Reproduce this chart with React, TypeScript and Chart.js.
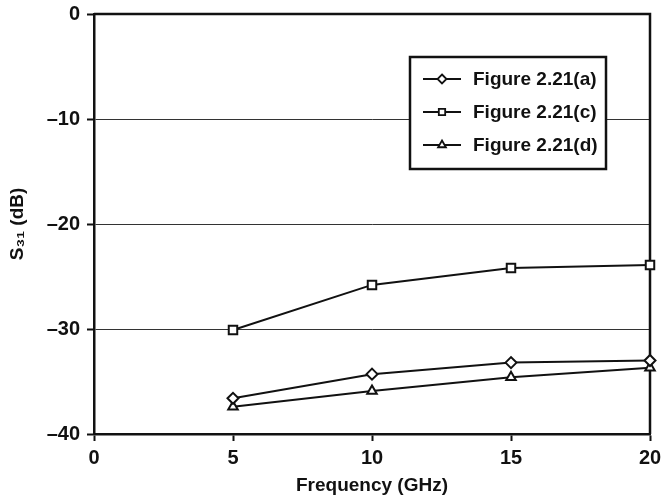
import React, { useEffect, useRef } from 'react';
import { Chart, registerables } from 'chart.js';

Chart.register(...registerables);

const frequencies = [5, 10, 15, 20];
const seriesA = [-36.6, -34.3, -33.2, -33.0];
const seriesC = [-30.1, -25.8, -24.2, -23.9];
const seriesD = [-37.4, -35.9, -34.6, -33.7];
const seriesLabels = ['Figure 2.21(a)', 'Figure 2.21(c)', 'Figure 2.21(d)'];
const seriesMarkers = ['rectRot', 'rect', 'triangle'];
const xTitle = 'Frequency (GHz)';
const yTitle = 'S\u2083\u2081 (dB)';

const FONT = "'Liberation Sans', Arial, sans-serif";
const INK = '#111';

function drawMarker(ctx: CanvasRenderingContext2D, style: string, x: number, y: number, r: number) {
  ctx.beginPath();
  if (style === 'rectRot') {
    ctx.moveTo(x, y - r);
    ctx.lineTo(x + r, y);
    ctx.lineTo(x, y + r);
    ctx.lineTo(x - r, y);
    ctx.closePath();
  } else if (style === 'rect') {
    const s = r * Math.SQRT1_2;
    ctx.rect(x - s, y - s, 2 * s, 2 * s);
  } else {
    const h = r;
    ctx.moveTo(x, y - h);
    ctx.lineTo(x + h * 0.866, y + h * 0.5);
    ctx.lineTo(x - h * 0.866, y + h * 0.5);
    ctx.closePath();
  }
  ctx.fillStyle = '#fff';
  ctx.fill();
  ctx.stroke();
}

const framePlugin = {
  id: 'frame',
  beforeDatasetsDraw(chart: any) {
    const { ctx, chartArea } = chart;
    ctx.save();
    ctx.strokeStyle = INK;
    ctx.lineWidth = 2.5;
    ctx.beginPath();
    ctx.moveTo(chartArea.left, chartArea.top);
    ctx.lineTo(chartArea.right, chartArea.top);
    ctx.lineTo(chartArea.right, chartArea.bottom);
    ctx.stroke();
    ctx.restore();
  },
  afterDraw(chart: any) {
    const { ctx, chartArea } = chart;
    const bx = chartArea.right - 240;
    const by = chartArea.top + 43;
    const bw = 196;
    const bh = 112;
    ctx.save();
    ctx.fillStyle = '#fff';
    ctx.fillRect(bx, by, bw, bh);
    ctx.strokeStyle = INK;
    ctx.lineWidth = 2.5;
    ctx.strokeRect(bx, by, bw, bh);
    chart.data.datasets.forEach((ds: any, i: number) => {
      const rowY = by + 22 + i * 33;
      ctx.strokeStyle = INK;
      ctx.lineWidth = 2;
      ctx.beginPath();
      ctx.moveTo(bx + 13, rowY);
      ctx.lineTo(bx + 51, rowY);
      ctx.stroke();
      ctx.lineWidth = 1.8;
      drawMarker(ctx, ds.pointStyle, bx + 32, rowY, 4.5);
      ctx.fillStyle = INK;
      ctx.font = `bold 19px ${FONT}`;
      ctx.textAlign = 'left';
      ctx.textBaseline = 'middle';
      ctx.fillText(ds.label, bx + 63, rowY + 1);
    });
    ctx.restore();
  },
};

export default function App() {
  const ref = useRef<HTMLCanvasElement>(null);

  useEffect(() => {
    if (!ref.current) return;
    const mk = (label: string, data: number[], style: string, radius: number) => ({
      label,
      data: frequencies.map((f, i) => ({ x: f, y: data[i] })),
      borderColor: INK,
      borderWidth: 2,
      pointStyle: style,
      pointRadius: radius,
      pointBorderWidth: 2,
      pointBorderColor: INK,
      pointBackgroundColor: '#fff',
      clip: false,
      tension: 0,
    });
    const chart = new Chart(ref.current, {
      type: 'line',
      data: {
        datasets: [
          mk(seriesLabels[0], seriesA, seriesMarkers[0], 5.5),
          mk(seriesLabels[1], seriesC, seriesMarkers[1], 6),
          mk(seriesLabels[2], seriesD, seriesMarkers[2], 5.5),
        ],
      },
      options: {
        animation: false,
        responsive: false,
        layout: { padding: { left: 0, right: 12, top: 14, bottom: 0 } },
        plugins: { legend: { display: false }, tooltip: { enabled: false } },
        scales: {
          x: {
            type: 'linear',
            min: 0,
            max: 20,
            ticks: { stepSize: 5, color: INK, padding: 5, font: { family: FONT, size: 20, weight: 'bold' } },
            grid: { drawOnChartArea: false, tickLength: 7, tickWidth: 2, tickColor: INK },
            border: { color: INK, width: 2.5 },
            title: { display: true, text: xTitle, color: INK, padding: { top: 0, bottom: 0 }, font: { family: FONT, size: 19, weight: 'bold' } },
            afterFit: (s: any) => { s.height = 63; s.paddingLeft = 0; s.paddingRight = 0; },
          },
          y: {
            min: -40,
            max: 0,
            ticks: {
              stepSize: 10,
              color: INK,
              padding: 7,
              font: { family: FONT, size: 20, weight: 'bold' },
              callback: (v: any) => (v < 0 ? '\u2013' + Math.abs(v) : String(v)),
            },
            grid: {
              color: (c: any) => (c.tick && (c.tick.value === 0 || c.tick.value === -40) ? 'rgba(0,0,0,0)' : '#333'),
              lineWidth: 1,
              tickLength: 7,
              tickWidth: 2,
              tickColor: INK,
            },
            border: { color: INK, width: 2.5 },
            title: { display: true, text: yTitle, color: INK, padding: { top: 6, bottom: 0 }, font: { family: FONT, size: 19, weight: 'bold' } },
            afterFit: (s: any) => { s.width = 94; s.paddingTop = 0; s.paddingBottom = 0; },
          },
        },
      },
      plugins: [framePlugin],
    } as any);
    return () => chart.destroy();
  }, []);

  return (
    <div style={{ position: 'fixed', left: 0, top: 0, width: 662, height: 497, background: '#fff' }}>
      <canvas ref={ref} width={662} height={497} style={{ width: 662, height: 497 }} />
    </div>
  );
}
